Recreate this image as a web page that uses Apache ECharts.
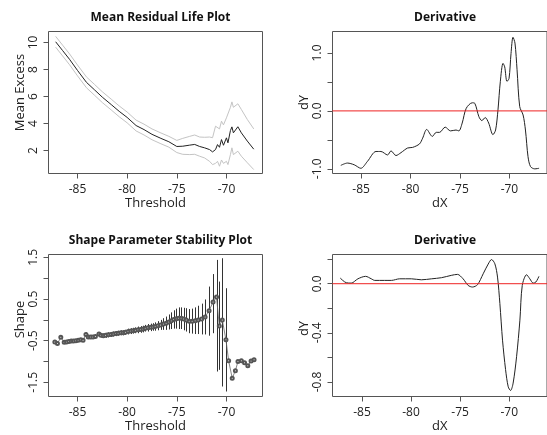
<!DOCTYPE html>
<html><head><meta charset="utf-8">
<script src="https://cdn.jsdelivr.net/npm/echarts@6/dist/echarts.min.js"></script>
<style>html,body{margin:0;padding:0;background:#fff}#c{width:547px;height:435px}</style>
</head><body><div id="c"></div>
<script>
// ---- Panel 1: Mean Residual Life Plot ----
const mrlX = [-87.2,-86.5,-85.8,-85.0,-84.1,-83.3,-82.5,-81.6,-80.8,-80.0,-79.1,-78.3,-77.5,-76.6,-75.8,-75.0,-74.4,-73.7,-73.2,-72.7,-72.2,-71.7,-71.4,-71.1,-70.9,-70.7,-70.5,-70.3,-70.0,-69.85,-69.6,-69.45,-69.3,-68.85,-68.5,-67.9,-67.25];
const mrlMean = [10.05,9.4,8.75,7.93,7.05,6.5,5.95,5.4,4.9,4.45,3.85,3.55,3.2,2.9,2.65,2.3,2.32,2.4,2.45,2.3,2.2,2.07,1.9,2.07,2.44,2.24,2.81,2.39,2.94,2.57,3.48,3.75,3.31,3.76,3.31,2.7,2.1];
const mrlUpper = [10.45,9.8,9.15,8.33,7.45,6.9,6.35,5.8,5.3,4.85,4.25,3.95,3.6,3.3,3.05,2.75,2.9,3.05,3.15,3.0,2.98,3.0,2.95,3.8,3.7,3.6,4.17,3.9,4.42,4.3,5.2,5.6,5.2,5.46,5.04,4.3,3.6];
const mrlLower = [9.65,9.0,8.35,7.53,6.65,6.1,5.55,5.0,4.5,4.05,3.45,3.15,2.8,2.5,2.25,1.85,1.72,1.7,1.72,1.58,1.45,1.2,0.96,1.05,1.2,0.84,1.3,1.05,1.2,0.96,1.7,2.2,1.7,1.95,1.58,1.1,0.59];

// ---- Panel 2: Derivative of mean excess ----
const d1X = [-87.06,-86.39,-85.7,-85.03,-84.36,-83.5,-83.0,-82.33,-81.98,-81.48,-80.97,-80.3,-79.8,-79.1,-78.78,-78.37,-77.8,-77.4,-77.07,-76.5,-75.96,-75.4,-75.12,-74.78,-74.37,-73.76,-73.5,-73.09,-72.79,-72.45,-72.1,-71.67,-71.4,-71.16,-70.92,-70.65,-70.48,-70.25,-70.04,-69.84,-69.64,-69.44,-69.23,-68.96,-68.62,-68.38,-68.12,-67.87,-67.44,-67.0];
const d1Y = [-0.94,-0.9,-0.93,-0.99,-0.87,-0.7,-0.7,-0.76,-0.69,-0.77,-0.72,-0.64,-0.63,-0.57,-0.47,-0.32,-0.44,-0.37,-0.37,-0.28,-0.345,-0.33,-0.345,-0.21,0.045,0.14,0.13,-0.1,-0.167,-0.115,-0.21,-0.41,-0.33,0.017,0.51,0.82,0.76,0.51,0.56,0.99,1.27,1.17,0.71,0.074,-0.07,-0.33,-0.79,-0.96,-1.0,-0.99];

// ---- Panel 3: Shape Parameter Stability Plot ----
const shapeX = [-87.28,-87.02,-86.68,-86.34,-86.10,-85.87,-85.63,-85.40,-85.16,-84.92,-84.67,-84.44,-84.15,-83.92,-83.68,-83.44,-83.20,-82.84,-82.64,-82.40,-82.17,-81.90,-81.63,-81.40,-81.13,-80.90,-80.63,-80.40,-80.17,-79.90,-79.63,-79.40,-79.17,-78.90,-78.63,-78.40,-78.17,-77.90,-77.63,-77.40,-77.17,-76.90,-76.63,-76.35,-76.07,-75.80,-75.55,-75.30,-75.05,-74.80,-74.55,-74.30,-74.05,-73.75,-73.45,-73.15,-72.85,-72.50,-72.15,-71.75,-71.35,-71.00,-70.72,-70.42,-70.05,-69.78,-69.42,-69.10,-68.84,-68.50,-68.18,-67.85,-67.52,-67.22];
const shapeY = [-0.53,-0.57,-0.42,-0.54,-0.53,-0.52,-0.51,-0.51,-0.50,-0.49,-0.48,-0.49,-0.35,-0.41,-0.41,-0.41,-0.40,-0.34,-0.37,-0.38,-0.37,-0.36,-0.35,-0.34,-0.33,-0.32,-0.31,-0.31,-0.30,-0.28,-0.27,-0.26,-0.25,-0.24,-0.23,-0.22,-0.20,-0.19,-0.18,-0.17,-0.16,-0.14,-0.12,-0.10,-0.08,-0.05,-0.02,0.01,0.03,0.04,0.04,0.02,0.00,-0.03,-0.03,-0.02,0.00,0.02,0.07,0.22,0.43,0.55,-0.15,0.00,-0.48,-0.98,-1.40,-1.22,-1.00,-0.98,-1.03,-1.10,-0.99,-0.96];
const shapeLo = [-0.57,-0.61,-0.46,-0.58,-0.57,-0.56,-0.55,-0.55,-0.54,-0.53,-0.52,-0.53,-0.40,-0.46,-0.46,-0.46,-0.45,-0.39,-0.42,-0.43,-0.43,-0.42,-0.41,-0.40,-0.39,-0.38,-0.37,-0.37,-0.36,-0.35,-0.34,-0.33,-0.32,-0.32,-0.31,-0.30,-0.28,-0.28,-0.27,-0.26,-0.26,-0.25,-0.24,-0.24,-0.24,-0.23,-0.22,-0.21,-0.21,-0.22,-0.22,-0.25,-0.28,-0.32,-0.33,-0.34,-0.34,-0.35,-0.35,-0.38,-0.32,-1.24,-1.20,-1.60,-1.72,null,null,null,null,null,null,null,null,null];
const shapeHi = [-0.49,-0.53,-0.38,-0.50,-0.49,-0.48,-0.47,-0.47,-0.46,-0.45,-0.44,-0.45,-0.30,-0.36,-0.36,-0.36,-0.35,-0.29,-0.32,-0.33,-0.31,-0.30,-0.29,-0.28,-0.27,-0.26,-0.25,-0.25,-0.24,-0.21,-0.20,-0.19,-0.18,-0.16,-0.15,-0.14,-0.12,-0.10,-0.09,-0.08,-0.06,-0.03,0.00,0.04,0.08,0.13,0.18,0.23,0.27,0.30,0.30,0.29,0.28,0.26,0.27,0.30,0.34,0.39,0.49,0.80,1.10,1.44,0.92,1.48,0.76,null,null,null,null,null,null,null,null,null];

// ---- Panel 4: Derivative of shape ----
const d2X = [-87.21,-86.6,-86.09,-85.41,-84.63,-84.05,-83.7,-82.7,-82.0,-81.16,-79.97,-78.95,-77.9,-76.9,-75.9,-75.27,-74.7,-74.18,-73.74,-73.23,-72.65,-72.14,-71.8,-71.46,-71.19,-70.95,-70.68,-70.37,-70.1,-69.86,-69.6,-69.25,-68.91,-68.67,-68.23,-67.9,-67.55,-67.28,-66.97];
const d2Y = [0.046,0.008,0.005,0.04,0.06,0.04,0.027,0.027,0.027,0.04,0.04,0.032,0.04,0.049,0.068,0.076,0.04,-0.014,-0.027,-0.008,0.081,0.16,0.197,0.162,0.054,-0.162,-0.46,-0.70,-0.84,-0.87,-0.81,-0.595,-0.297,-0.014,0.073,0.04,0.005,0.014,0.06];

// ---- Axis ranges and tick values ----
const x1Range = [-87.92, -66.37];
const x2Range = [-87.9, -66.2];
const x3Range = [-87.92, -66.37];
const x4Range = [-88.0, -66.15];
const xTicks = [-85,-80,-75,-70];
const mrlYTicks = [2,4,6,8,10];
const d1YTicks = [-1,-0.5,0,0.5,1];
const d1YLabels = [-1,0,1];
const shapeYTicks = [-1.5,-1,-0.5,0,0.5,1,1.5];
const shapeYLabels = [-1.5,-0.5,0.5,1.5];
const d2YTicks = [-0.8,-0.6,-0.4,-0.2,0,0.2];
const d2YLabels = [-0.8,-0.4,0];
const refLineY = 0;

const FONT = 'Open Sans';
const TXT = '#222';
const BOX = '#555';
const pair = (xs, ys) => xs.map((x, i) => [x, ys[i]]);

function xAx(gi, range, name) {
  return {
    type: 'value', gridIndex: gi, min: range[0], max: range[1], name: name,
    nameLocation: 'middle', nameGap: 22,
    nameTextStyle: { fontFamily: FONT, fontSize: 13, color: TXT },
    axisLine: { show: false, onZero: false }, splitLine: { show: false },
    axisTick: { show: true, length: 5, lineStyle: { color: BOX }, customValues: xTicks },
    axisLabel: { fontFamily: FONT, fontSize: 12, color: TXT, margin: 10, customValues: xTicks }
  };
}
function yAx(gi, min, max, name, ticks, labels, dec, pad) {
  return {
    type: 'value', gridIndex: gi, min: min, max: max, name: name,
    nameLocation: 'middle', nameGap: 22, nameRotate: 90,
    nameTextStyle: { fontFamily: FONT, fontSize: 13, color: TXT, padding: pad },
    axisLine: { show: false, onZero: false }, splitLine: { show: false },
    axisTick: { show: true, length: 5, lineStyle: { color: BOX }, customValues: ticks },
    axisLabel: { fontFamily: FONT, fontSize: 12, color: TXT, margin: 9, rotate: 90, customValues: labels,
      formatter: v => dec ? Number(v).toFixed(1) : String(v) }
  };
}
const gridBase = { show: true, borderColor: BOX, borderWidth: 1, backgroundColor: 'transparent' };
const titleStyle = { fontFamily: FONT, fontSize: 12, fontWeight: 'bold', color: '#111' };

// horizontal reference line (abline h = 0) across the whole x range of a panel
function refLineSeries(idx, range) {
  return {
    type: 'line', xAxisIndex: idx, yAxisIndex: idx, silent: true, z: 10,
    data: [[range[0], refLineY], [range[1], refLineY]], showSymbol: false, symbol: 'none',
    color: '#ee2222',
    lineStyle: { color: '#ee2222', width: 1 }
  };
}

const barData = [];
shapeX.forEach((x, i) => { if (shapeLo[i] !== null) barData.push([x, shapeLo[i], shapeHi[i]]); });

const chart = echarts.init(document.getElementById('c'));
chart.setOption({
  animation: false,
  backgroundColor: '#fff',
  title: [
    { text: 'Mean Residual Life Plot', left: 155.5, top: 7, textAlign: 'center', textStyle: titleStyle },
    { text: 'Derivative', left: 440, top: 7, textAlign: 'center', textStyle: titleStyle },
    { text: 'Shape Parameter Stability Plot', left: 155.5, top: 230, textAlign: 'center', textStyle: titleStyle },
    { text: 'Derivative', left: 440, top: 230, textAlign: 'center', textStyle: titleStyle }
  ],
  grid: [
    Object.assign({ left: 48.5, top: 31.5, width: 214, height: 142 }, gridBase),
    Object.assign({ left: 332.5, top: 31.5, width: 214.5, height: 142 }, gridBase),
    Object.assign({ left: 48.5, top: 254.5, width: 214, height: 142 }, gridBase),
    Object.assign({ left: 332.5, top: 254.5, width: 214.5, height: 142 }, gridBase)
  ],
  xAxis: [
    xAx(0, x1Range, 'Threshold'),
    xAx(1, x2Range, 'dX'),
    xAx(2, x3Range, 'Threshold'),
    xAx(3, x4Range, 'dX')
  ],
  yAxis: [
    yAx(0, 0.30, 10.81, 'Mean Excess', mrlYTicks, mrlYTicks, false, [0, 0, 0, 20]),
    yAx(1, -1.08, 1.37, 'dY', d1YTicks, d1YLabels, true, [0, 0, 0, 0]),
    yAx(2, -1.84, 1.57, 'Shape', shapeYTicks, shapeYLabels, true, [0, 0, 0, 12]),
    yAx(3, -0.919, 0.238, 'dY', d2YTicks, d2YLabels, true, [0, 6, 0, 0])
  ],
  series: [
    { type: 'line', xAxisIndex: 0, yAxisIndex: 0, data: pair(mrlX, mrlUpper), showSymbol: false,
      lineStyle: { color: '#c4c4c4', width: 1 } },
    { type: 'line', xAxisIndex: 0, yAxisIndex: 0, data: pair(mrlX, mrlLower), showSymbol: false,
      lineStyle: { color: '#c4c4c4', width: 1 } },
    { type: 'line', xAxisIndex: 0, yAxisIndex: 0, data: pair(mrlX, mrlMean), showSymbol: false,
      lineStyle: { color: '#222', width: 1 } },
    { type: 'line', xAxisIndex: 1, yAxisIndex: 1, data: pair(d1X, d1Y), showSymbol: false, smooth: 0.3,
      lineStyle: { color: '#222', width: 1 }, z: 3 },
    refLineSeries(1, x2Range),
    { type: 'custom', xAxisIndex: 2, yAxisIndex: 2, data: barData,
      encode: { x: 0, y: [1, 2] },
      renderItem: function (params, api) {
        const p1 = api.coord([api.value(0), api.value(1)]);
        const p2 = api.coord([api.value(0), api.value(2)]);
        const xx = Math.round(p1[0]) + 0.5;
        return { type: 'line', shape: { x1: xx, y1: p1[1], x2: xx, y2: p2[1] },
          style: { stroke: '#333', lineWidth: 1 } };
      } },
    { type: 'line', xAxisIndex: 2, yAxisIndex: 2, data: pair(shapeX, shapeY), symbol: 'emptyCircle', symbolSize: 3,
      showSymbol: true, lineStyle: { color: '#666', width: 0.8 },
      itemStyle: { color: '#555', borderColor: '#555', borderWidth: 0.8 } },
    { type: 'line', xAxisIndex: 3, yAxisIndex: 3, data: pair(d2X, d2Y), showSymbol: false, smooth: 0.3,
      lineStyle: { color: '#222', width: 1 }, z: 3 },
    refLineSeries(3, x4Range)
  ]
});
</script>
</body></html>
